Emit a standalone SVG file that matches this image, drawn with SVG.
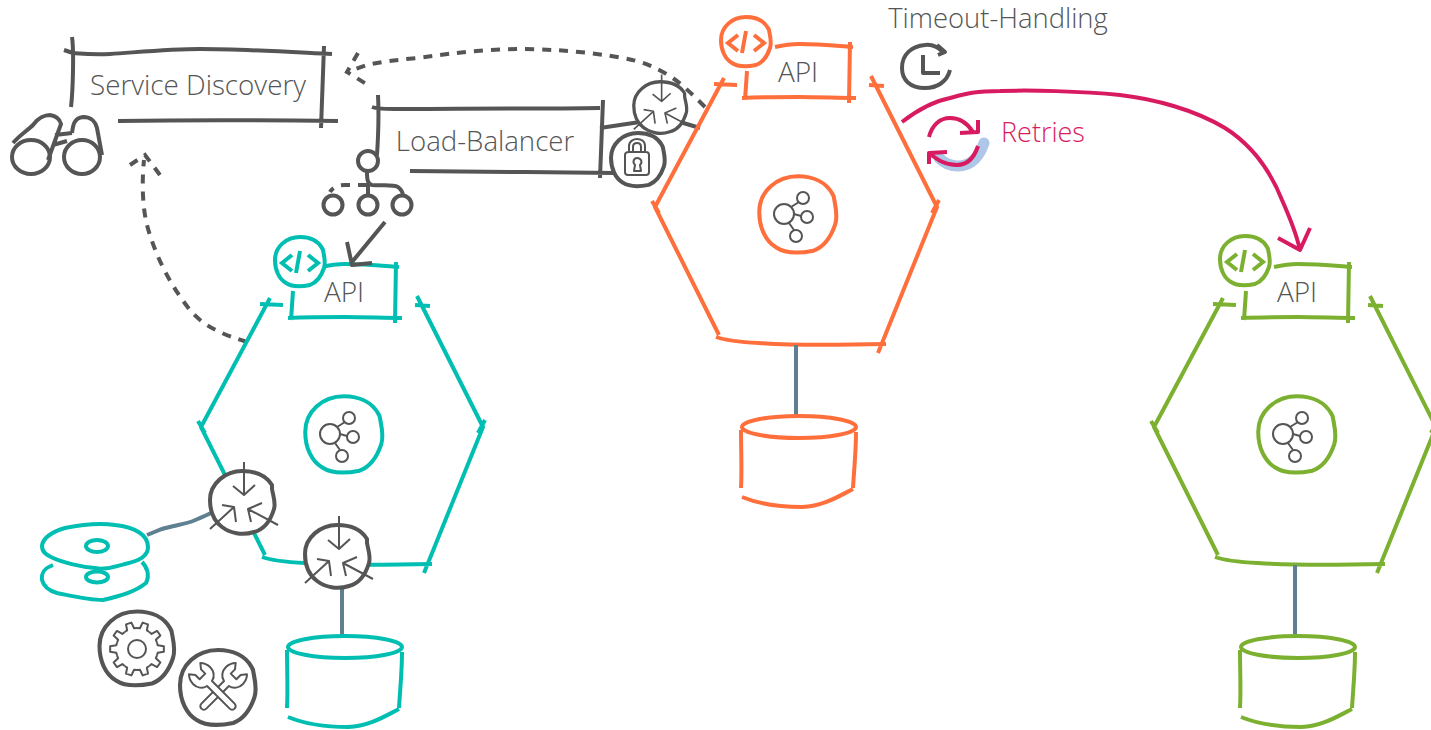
<svg xmlns="http://www.w3.org/2000/svg" width="1431" height="730" viewBox="0 0 1431 730">
<style>
text{font-family:"Open Sans","Noto Sans","Liberation Sans",sans-serif;font-weight:300;fill:#555}
.s{fill:none;stroke:currentColor;stroke-width:4;stroke-linecap:butt;stroke-linejoin:round}
.g{fill:none;stroke:#555;stroke-width:4;stroke-linejoin:round}
.t{fill:none;stroke:#555;stroke-width:2;stroke-linejoin:round}
.d{fill:none;stroke:#555;stroke-width:4;stroke-dasharray:9 8}
.link{fill:none;stroke:#5f8090;stroke-width:4}
.r{fill:none;stroke:#d81b60;stroke-width:4;stroke-linejoin:round}
.teal{color:#00bfb2}.orange{color:#ff6f3c}.green{color:#7cb030}
</style>
<defs>
<path id="blob" d="M-25-2C-25-15-14-25 0-25C10-25 18-21 22-14L23-12C24-6 26 0 24 6C22 12 18 20 10 23C0 25-8 25-14 21C-21 17-25 8-25-2Z"/>
<g id="gwicon" class="t">
<path d="M2-41L2-8M-9-17L2-8L13-18M-32 26L-8 4M-20 2L-8 4L-6 19M36 22L6 6M20 0L6 6L9 19"/>
</g>
<g id="hubicon" class="t">
<circle cx="-14" cy="-1" r="10"/><circle cx="5" cy="-17" r="6"/><circle cx="9" cy="2" r="6"/><circle cx="-2" cy="21" r="6"/>
<path d="M-7-8L1-13M-4-1L3 1M-9 8L-4 15"/>
</g>
<g id="apiicon">
<use href="#blob" fill="#fff" stroke="currentColor" stroke-width="4"/>
<path fill="none" stroke="currentColor" stroke-width="4" d="M-8-7L-18 1L-8 9M0-11L-4 11M8-7L18 1L8 9"/>
</g>
<g id="service">
<path class="s" d="M321 267C330 265 338 264 345 264C365 264 385 266 399 267M396 262L395 323M293 291L291 320M288 318C310 317 330 317 345 317C365 317 385 318 402 318"/>
<text x="344" y="302" text-anchor="middle" font-size="28">API</text>
<path class="s" d="M260 304L283 305M270 298L201 427L265 555M198 421L205 433M262 557C270 560 285 562 305 563C345 566 390 565 432 564M415 305L430 306M417 296L483 427L424 573M478 433L485 420"/>
<path class="link" d="M342 565L342 638"/>
<ellipse cx="345" cy="647" rx="57" ry="11" class="s"/>
<path class="s" d="M287 650C287 670 288 690 287 708M402 652C402 672 400 690 399 708M288 717C305 724 325 727 348 727C370 726 385 716 399 709"/>
<use href="#blob" transform="translate(344 435) scale(1.55)" fill="none" stroke="currentColor" stroke-width="2.6"/>
<use href="#hubicon" transform="translate(344 435)"/>
</g>
<g id="gw">
<path d="M-32-3C-32-20-16-32 0-32C12-32 24-28 30-18L30-14C31-8 34 0 32 6C29 16 24 26 12 29C0 33-12 30-20 24C-28 18-32 8-32-3Z" fill="#fff" stroke="#555" stroke-width="4"/>
<use href="#gwicon"/>
</g>
<path id="tooth" d="M19.97-6.49L20.68-3.65L26.85-2.82L26.85 2.82L20.68 3.65L19.97 6.49" class="t"/>
<path id="wrench" d="M-3.5-12L-3.5 20A3.5 3.5 0 0 0 3.5 20L3.5-12C9-13 12-18 12-23C12-27 11-30 8-33L4-28L4-22L-4-22L-4-28L-8-33C-11-30-12-27-12-23C-12-18-9-13-3.5-12Z" fill="#fff" stroke="#555" stroke-width="2" stroke-linejoin="round"/>
</defs>

<g id="connectors">
<path class="d" d="M705 107C690 92 678 80 663 72C650 65 640 61 623 58C590 52 540 47 490 50C460 52 440 55 417 58C395 60 380 62 367 65L347 72"/>
<path class="d" stroke-dasharray="7 6" d="M358 53L347 72L368 85"/>
<path class="d" d="M247 342C225 335 205 328 190 310C170 285 155 255 147 225C142 205 142 180 144 160"/>
<path class="d" stroke-dasharray="7 6" d="M130 165L145 155L160 175"/>
<path class="link" d="M147 535C152 533 157 531 162 529C172 526 185 524 193 521C200 518 205 516 211 513"/>
<path class="g" d="M600 128L640 122M680 122L700 128"/>
<path class="r" d="M902 122C920 108 935 101 950 98C965 94 975 91 1000 91C1030 90 1080 91 1120 95C1155 99 1195 110 1225 128C1255 147 1272 175 1282 200C1290 218 1296 232 1300 250M1278 238L1300 250L1310 228"/>
</g>

<g id="service-discovery">
<path class="g" d="M64 50L73 53C85 54 95 55 110 54C140 52 170 49 200 49C240 49 290 52 332 54M72 37C74 50 73 90 71 107M324 46L321 128M118 121C180 120 260 120 338 121"/>
<text x="198" y="95" text-anchor="middle" font-size="27.8">Service Discovery</text>
</g>
<g id="binoculars">
<ellipse cx="31" cy="157" rx="19" ry="17" class="g"/><ellipse cx="82" cy="157" rx="18" ry="17" class="g"/>
<path class="g" d="M13 143C20 135 28 130 33 125C38 118 45 115 50 115C57 116 60 120 61 124L48 160M72 133C73 125 74 118 83 117C92 117 96 123 97 128L102 155M55 135L72 133M53 145L67 141"/>
</g>
<g id="load-balancer">
<path class="g" d="M372 107C380 110 395 109 420 109C480 108 540 109 600 108M378 95C379 115 378 140 377 155M603 100L600 178M410 171C470 172 550 172 615 173"/>
<text x="485" y="151" text-anchor="middle" font-size="27.6">Load-Balancer</text>
</g>
<g id="lb-icon">
<circle cx="368" cy="161" r="10" class="g"/><circle cx="333" cy="205" r="9.5" class="g"/><circle cx="368" cy="205" r="9.5" class="g"/><circle cx="402" cy="205" r="9.5" class="g"/>
<path class="g" d="M367 171C367 178 367 184 372 185C382 186 392 184 398 187C402 190 403 193 403 196M368 184L368 196"/>
<path class="d" stroke-dasharray="8 5" d="M367 185L345 185C338 185 333 187 330 192"/>
</g>
<g id="gw-top"><use href="#gw" transform="translate(660 108) scale(.82)"/></g>
<g id="lock">
<use href="#blob" transform="translate(638 160) scale(1.08)" fill="#fff" stroke="#555" stroke-width="3.7"/>
<path class="t" d="M625 155C625 153 627 152 629 152L646 152C648 152 649 153 649 155L649 172C649 174 648 175 646 175L628 175C626 175 625 174 625 172ZM629 152L629 146C629 141 634 139 637 139C641 139 645 141 645 146L645 152M633 152L633 147C633 144 635 143 637 143C640 143 641 144 641 147L641 152"/>
<path class="t" d="M634 171L635 165C632 162 634 158 637 158C641 158 643 162 640 165L641 171Z"/>
</g>
<g id="clock">
<path class="g" d="M950 70C947 82 937 88 925 88C910 88 902 80 902 68C902 54 912 46 925 45C932 44 938 47 943 52M937 45L945 52L938 55M923 55L923 73L940 73"/>
</g>
<g id="timeout-label"><text x="998" y="28" text-anchor="middle" font-size="27.4">Timeout-Handling</text></g>
<g id="retries">
<path fill="none" stroke="#aec6e8" stroke-width="11" stroke-linecap="round" d="M984 143C980 155 972 166 958 166C950 166 944 163 939 158"/>
<path class="r" d="M929 137C932 125 940 118 950 118C960 118 968 124 973 132M978 120L978 132L960 133M978 146C974 158 968 165 957 165C945 165 938 160 930 154M929 164L929 153L947 152"/>
<text x="1001" y="142" font-size="27" style="fill:#d81b60">Retries</text>
</g>

<g id="service-teal" class="teal"><use href="#service"/><use href="#apiicon" transform="translate(300 262)"/></g>
<g id="service-orange" class="orange"><use href="#service" transform="translate(454 -220)"/><use href="#apiicon" transform="translate(746 42)"/></g>
<g id="service-green" class="green"><use href="#service" transform="translate(953 0)"/><use href="#apiicon" transform="translate(1245 261)"/></g>

<g id="lb-arrow"><path class="g" d="M385 222L352 262M347 242L352 265L372 263"/></g>
<g id="gw-left"><use href="#gw" transform="translate(242 503)"/></g>
<g id="gw-bottom"><use href="#gw" transform="translate(337 557)"/></g>
<g id="disks" class="teal">
<path class="s" d="M53 565C45 568 41 572 42 580C44 588 50 591 57 593C72 596 88 600 103 600C120 596 135 592 146 583C150 575 147 567 142 562"/>
<ellipse cx="97" cy="577" rx="11" ry="5.5" class="s"/>
<path class="s" d="M42 546C43 536 55 531 65 528C80 525 100 523 115 525C135 527 148 535 148 547C148 557 138 561 125 564C110 568 103 570 95 568C80 567 62 562 53 558C46 555 42 552 42 546Z"/>
<ellipse cx="97" cy="546" rx="11" ry="6" class="s"/>
</g>
<g id="settings">
<use href="#blob" transform="translate(137 649) scale(1.5)" fill="#fff" stroke="#555" stroke-width="2.7"/>
<circle cx="137" cy="649" r="9" class="t"/>
<g transform="translate(137 649)">
<use href="#tooth"/><use href="#tooth" transform="rotate(36)"/><use href="#tooth" transform="rotate(72)"/><use href="#tooth" transform="rotate(108)"/><use href="#tooth" transform="rotate(144)"/><use href="#tooth" transform="rotate(180)"/><use href="#tooth" transform="rotate(216)"/><use href="#tooth" transform="rotate(252)"/><use href="#tooth" transform="rotate(288)"/><use href="#tooth" transform="rotate(324)"/>
</g>
</g>
<g id="tools">
<use href="#blob" transform="translate(218 688) scale(1.52)" fill="#fff" stroke="#555" stroke-width="2.7"/>
<use href="#wrench" transform="translate(218 692) rotate(45)"/>
<use href="#wrench" transform="translate(218 692) rotate(-45)"/>
</g>
</svg>
